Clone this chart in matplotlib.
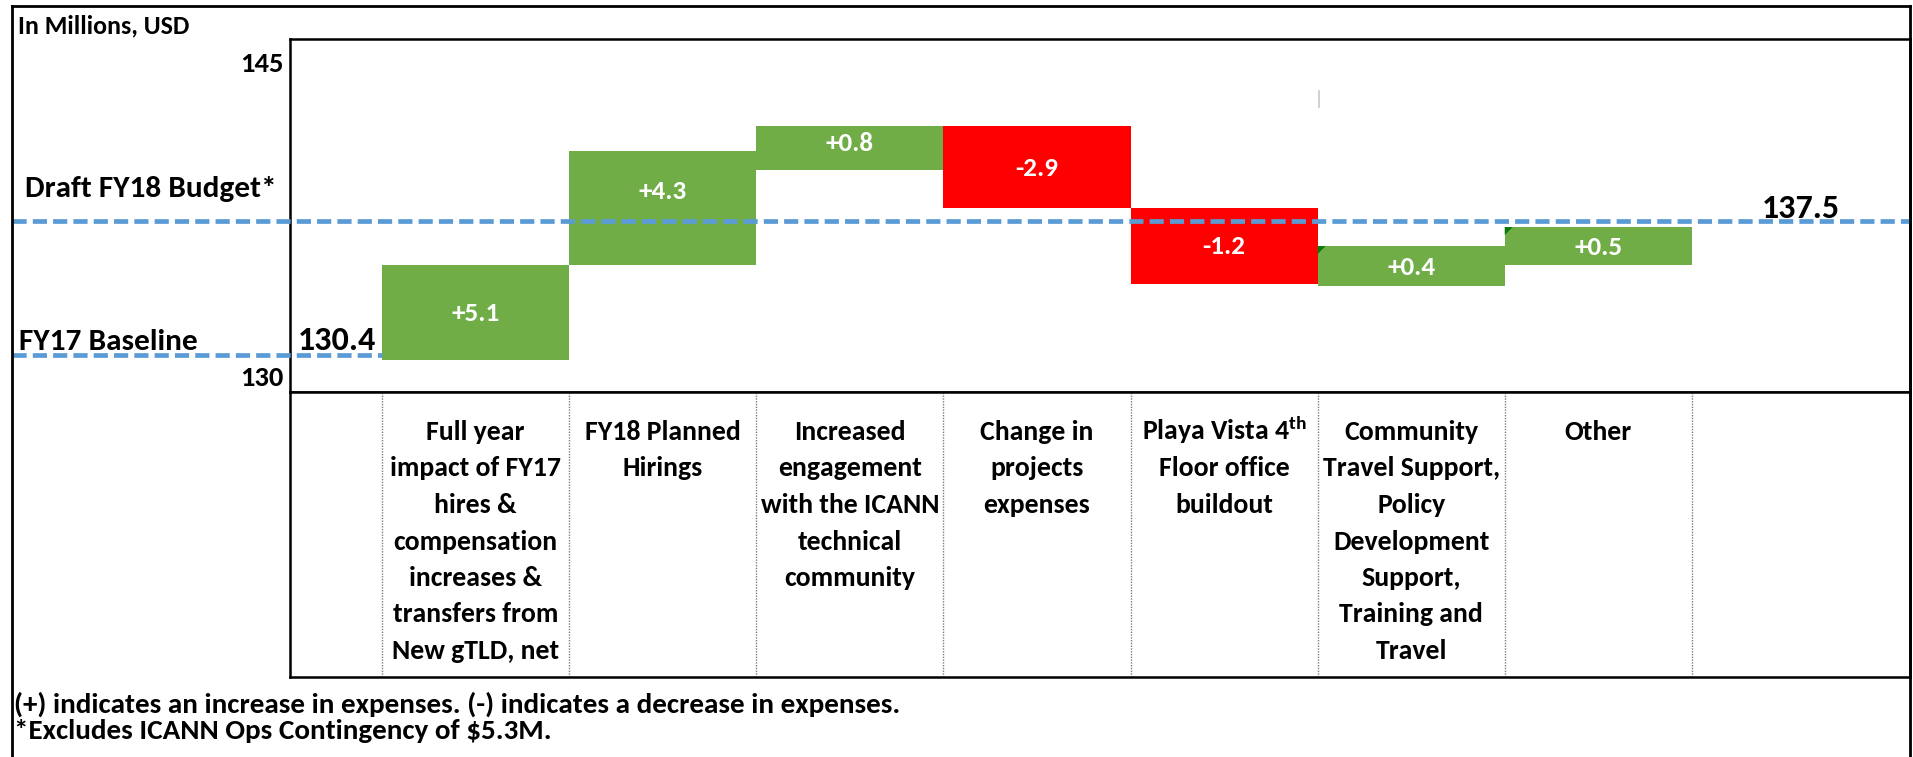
import matplotlib
matplotlib.use("Agg")
import matplotlib.pyplot as plt
from matplotlib.lines import Line2D
from matplotlib.patches import Polygon
from matplotlib import transforms
import numpy as np

# ---------------- data ----------------
categories = [
    "Full year\nimpact of FY17\nhires &\ncompensation\nincreases &\ntransfers from\nNew gTLD, net",
    "FY18 Planned\nHirings",
    "Increased\nengagement\nwith the ICANN\ntechnical\ncommunity",
    "Change in\nprojects\nexpenses",
    "Playa Vista 4$^{\\mathbf{th}}$\nFloor office\nbuildout",
    "Community\nTravel Support,\nPolicy\nDevelopment\nSupport,\nTraining and\nTravel",
    "Other",
]
deltas = [5.1, 4.3, 0.8, -2.9, -1.2, 0.4, 0.5]
# bar extents as drawn in the (schematic) picture, in axis units
bar_bottom = [130.76, 135.30, 139.84, 138.03, 134.40, 134.30, 135.30]
bar_top = [135.30, 140.75, 141.94, 141.94, 138.03, 136.21, 137.12]
baseline_value = 130.4
budget_value = 137.5
baseline_line_y = 131.0
budget_line_y = 137.4
y_ticks = [130, 145]
footnotes = [
    "(+) indicates an increase in expenses. (-) indicates a decrease in expenses.",
    "*Excludes ICANN Ops Contingency of $5.3M.",
]
# bars that carry the small dark-green corner marker in the picture
marker_bars = [5, 6]

# ---------------- style ----------------
W, H, DPI = 1913, 757, 100
GREEN, RED, BLUE = "#70AD47", "#FF0000", "#5B9BD5"
FONT = 'Carlito'

plt.rcParams['font.family'] = [FONT, 'DejaVu Sans']
plt.rcParams['font.weight'] = 'bold'
plt.rcParams['mathtext.fontset'] = 'custom'
plt.rcParams['mathtext.rm'] = FONT + ':bold'
plt.rcParams['mathtext.bf'] = FONT + ':bold'
plt.rcParams['mathtext.it'] = FONT + ':bold'


def fx(px):
    return px / W


def fy(py):
    return 1 - py / H


def pt(px):
    return px * 72.0 / DPI


fig = plt.figure(figsize=(W / DPI, H / DPI), dpi=DPI)

# ---------------- main plot ----------------
ax = fig.add_axes([fx(290), fy(392), fx(1910) - fx(290), fy(39) - fy(392)])
xpos = np.arange(1, len(deltas) + 1)
colors = [GREEN if d > 0 else RED for d in deltas]
heights = [t - b for t, b in zip(bar_top, bar_bottom)]
ax.bar(xpos, heights, bottom=bar_bottom, width=1.0, color=colors,
       linewidth=0, zorder=2)
xlim = (0.5 - 92 / 187, len(deltas) + 0.5 + 218 / 187)
ax.set_xlim(*xlim)
ax.set_ylim(129.24, 146.10)
ax.set_yticks(y_ticks)
ax.set_yticklabels([str(v) for v in y_ticks])
ax.tick_params(axis='y', length=0, pad=pt(6), labelsize=20.5)
for lab in ax.get_yticklabels():
    lab.set_fontweight('bold')
ax.set_xticks([])
for s in ax.spines.values():
    s.set_linewidth(1.8)
    s.set_color('black')

# value labels in bars
label_raise_px = [0, 18, 6, 0, 0, 0, 0]
for xi, b, t, d, r in zip(xpos, bar_bottom, bar_top, deltas, label_raise_px):
    ax.annotate(f"{d:+.1f}", xy=(xi, (b + t) / 2), xytext=(0, pt(r - 8.5)),
                textcoords='offset points', ha='center', va='baseline',
                color='white', fontsize=19.5, fontweight='bold', zorder=4)

# small dark-green corner markers (as in the picture)
for k in marker_bars:
    cx, cy = ax.transData.transform((xpos[k] - 0.5, bar_top[k]))
    ax.add_patch(Polygon([(cx, cy), (cx + 8, cy), (cx, cy - 8)], closed=True,
                         transform=None, facecolor='#0B7A0B', edgecolor='none',
                         zorder=3))

# dashed reference lines
blend = transforms.blended_transform_factory(fig.transFigure, ax.transData)
ax.add_line(Line2D([fx(12), fx(1910)], [budget_line_y] * 2, transform=blend,
                   color=BLUE, lw=3.4, dashes=(3, 1.3), clip_on=False, zorder=3))
bar1_left_fig = fig.transFigure.inverted().transform(
    ax.transData.transform((xpos[0] - 0.5, 0)))[0]
ax.add_line(Line2D([fx(12), bar1_left_fig], [baseline_line_y] * 2, transform=blend,
                   color=BLUE, lw=3.4, dashes=(3, 1.3), clip_on=False, zorder=3))

# start / end values
ax.annotate(f"{baseline_value:.1f}", xy=(xpos[0] - 0.5, baseline_line_y),
            xytext=(pt(-6), pt(5)), textcoords='offset points',
            ha='right', va='baseline', fontsize=24.5, fontweight='bold',
            annotation_clip=False)
ax.annotate(f"{budget_value:.1f}", xy=((xpos[-1] + 0.5 + xlim[1]) / 2, budget_line_y),
            xytext=(0, pt(3)), textcoords='offset points',
            ha='center', va='baseline', fontsize=24.5, fontweight='bold',
            annotation_clip=False)

# ---------------- category table ----------------
tax = fig.add_axes([fx(290), fy(677), fx(1910) - fx(290), fy(392) - fy(677)])
tax.set_xlim(*xlim)
tax.set_ylim(677 - 392, 0)
tax.set_xticks([])
tax.set_yticks([])
for s in tax.spines.values():
    s.set_linewidth(1.8)
    s.set_color('black')
for bnd in np.arange(0.5, len(deltas) + 1, 1.0):
    tax.axvline(bnd, color='#7F7F7F', lw=1.0, ls=(0, (1, 1)), zorder=1)
for xi, cat in zip(xpos, categories):
    for i, line in enumerate(cat.split("\n")):
        tax.text(xi, 48 + i * 36.5, line, ha='center', va='baseline',
                 fontsize=20, fontweight='bold')

# ---------------- side texts ----------------
fig.text(fx(18), fy(33), "In Millions, USD", fontsize=18.7, fontweight='bold',
         va='baseline', ha='left')
fig.text(fx(25), fy(197), "Draft FY18 Budget*", fontsize=22.5, fontweight='bold',
         va='baseline', ha='left')
fig.text(fx(19), fy(350), "FY17 Baseline", fontsize=22.5, fontweight='bold',
         va='baseline', ha='left')
for i, note in enumerate(footnotes):
    fig.text(fx(14), fy(713 + i * 26), note.replace("$", r"\$"), fontsize=21,
             fontweight='bold', va='baseline', ha='left')

# ---------------- outer frame ----------------
frame_kw = dict(transform=fig.transFigure, color='black', lw=2.0)
fig.add_artist(Line2D([fx(12), fx(12)], [0, fy(6)], **frame_kw))
fig.add_artist(Line2D([fx(12), fx(1910)], [fy(6), fy(6)], **frame_kw))
fig.add_artist(Line2D([fx(1910), fx(1910)], [fy(6), 0], **frame_kw))
fig.add_artist(Line2D([fx(1319), fx(1319)], [fy(91), fy(107)],
                      transform=fig.transFigure, color='#C8C8C8', lw=1.2))

fig.savefig("out.png", dpi=DPI)
